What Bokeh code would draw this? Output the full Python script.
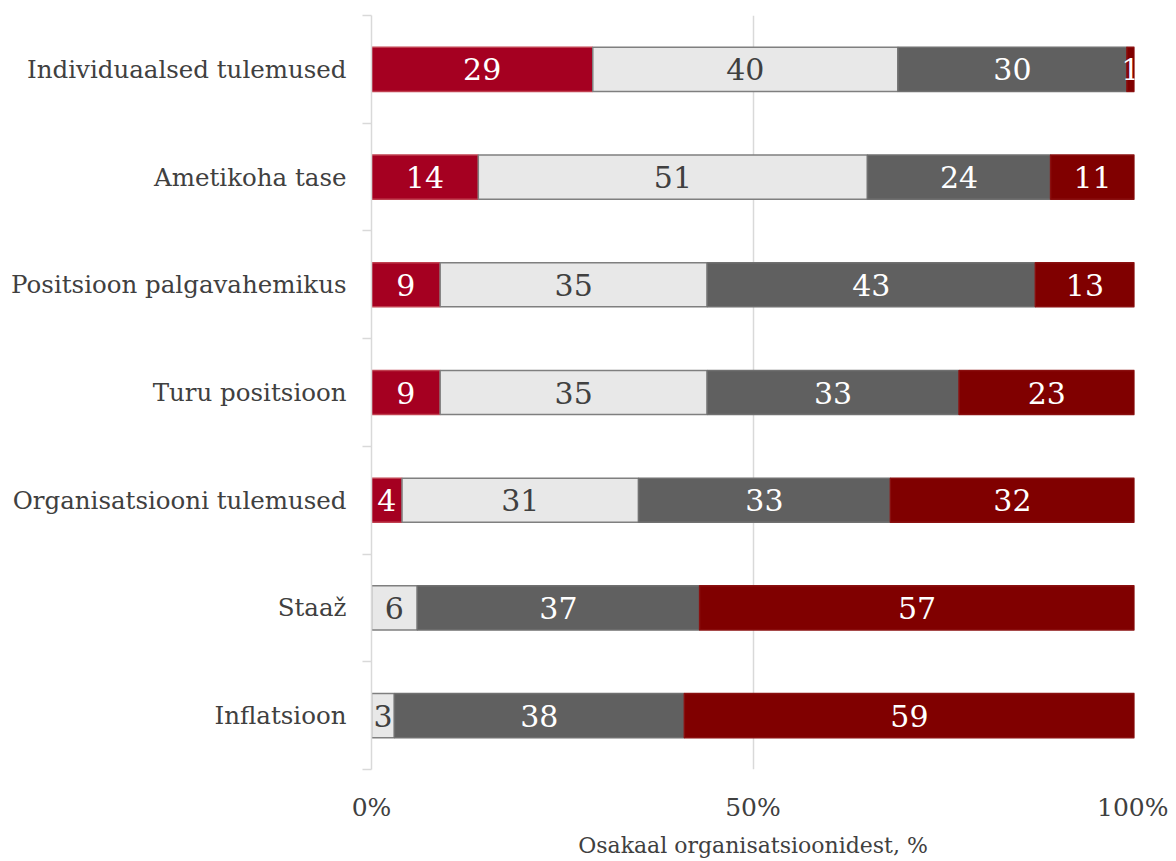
from bokeh.plotting import figure
from bokeh.models import Range1d, FixedTicker, ColumnDataSource
from bokeh.core.properties import value
from bokeh.embed import file_html
from bokeh.resources import INLINE

categories = ["Individuaalsed tulemused", "Ametikoha tase", "Positsioon palgavahemikus",
              "Turu positsioon", "Organisatsiooni tulemused", "Staaž", "Inflatsioon"]
seg1 = [29, 14, 9, 9, 4, 0, 0]
seg2 = [40, 51, 35, 35, 31, 6, 3]
seg3 = [30, 24, 43, 33, 33, 37, 38]
seg4 = [1, 11, 13, 23, 32, 57, 59]
x_ticks = [0, 50, 100]
x_tick_labels = ["0%", "50%", "100%"]
x_title = "Osakaal organisatsioonidest, %"

series = [seg1, seg2, seg3, seg4]
fills = ["#A50021", "#E8E8E8", "#606060", "#800000"]
lines = ["#C04050", "#7F7F7F", "#707070", "#8A1010"]
txt_colors = ["white", "#404040", "white", "white"]

FONT = "DejaVu Serif"
n = len(categories)
ypos = [n - 1 - i + 0.5 for i in range(n)]

p = figure(width=1168, height=860, output_backend="svg", toolbar_location=None,
           x_range=Range1d(0, 100), y_range=Range1d(0, n),
           min_border_left=371, min_border_right=34, min_border_top=15, min_border_bottom=90)
p.outline_line_color = None

left = [0] * n
for k, s in enumerate(series):
    right = [l + v for l, v in zip(left, s)]
    src = ColumnDataSource(dict(y=ypos, left=left, right=right, v=s,
                                xc=[(a + b) / 2 for a, b in zip(left, right)],
                                t=[str(v) if v > 0 else "" for v in s]))
    p.hbar(y="y", left="left", right="right", height=0.41, source=src,
           fill_color=fills[k], line_color=lines[k], line_width=1.5)
    p.text(x="xc", y="y", text="t", source=src, text_align="center", text_baseline="middle",
           text_font=value(FONT), text_font_size="30px", text_color=txt_colors[k])
    left = right

# x axis
p.xaxis.ticker = FixedTicker(ticks=x_ticks)
p.xaxis.major_label_overrides = {t: l for t, l in zip(x_ticks, x_tick_labels)}
p.xaxis.axis_line_color = None
p.xaxis.major_tick_line_color = None
p.xaxis.minor_tick_line_color = None
p.xaxis.major_label_standoff = 17
p.xaxis.major_label_text_font = FONT
p.xaxis.major_label_text_font_size = "25px"
p.xaxis.major_label_text_color = "#404040"
p.xaxis.axis_label = x_title
p.xaxis.axis_label_text_font = FONT
p.xaxis.axis_label_text_font_style = "normal"
p.xaxis.axis_label_text_font_size = "22px"
p.xaxis.axis_label_text_color = "#404040"
p.xaxis.axis_label_standoff = 8

# y axis
p.yaxis.ticker = FixedTicker(ticks=ypos, minor_ticks=list(range(0, n + 1)))
p.yaxis.major_label_overrides = {y: c for y, c in zip(ypos, categories)}
p.yaxis.axis_line_color = "#D9D9D9"
p.yaxis.axis_line_width = 1.5
p.yaxis.major_tick_line_color = None
p.yaxis.minor_tick_line_color = "#D9D9D9"
p.yaxis.minor_tick_line_width = 1.5
p.yaxis.minor_tick_out = 9
p.yaxis.minor_tick_in = 0
p.yaxis.major_label_standoff = 16
p.yaxis.major_label_text_font = FONT
p.yaxis.major_label_text_font_size = "24.5px"
p.yaxis.major_label_text_color = "#404040"

p.xgrid.ticker = FixedTicker(ticks=[50, 100])
p.xgrid.grid_line_color = "#D9D9D9"
p.xgrid.grid_line_width = 1.5
p.ygrid.grid_line_color = None

open("out.html", "w").write(file_html(p, INLINE))
